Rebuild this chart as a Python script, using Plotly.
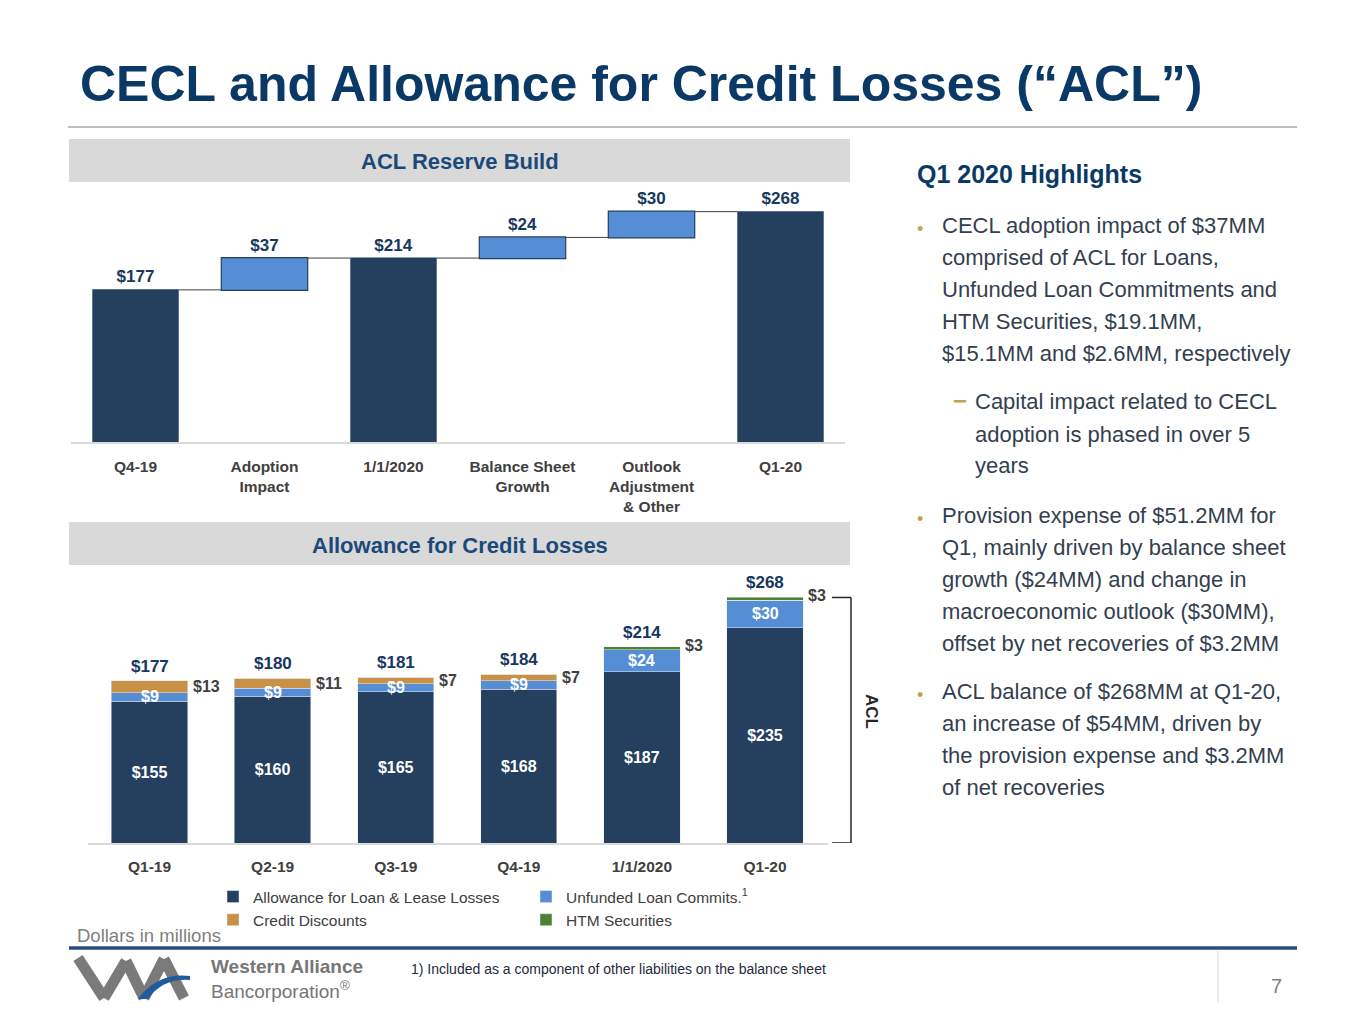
import plotly.graph_objects as go

# page body has an 8px margin: figure is sized to fit inside it
OFF = 8
W, H = 1365 - 2 * OFF, 1024 - 2 * OFF
def X(px): return (px - OFF) / W
def Y(py): return 1 - (py - OFF) / H

FS = "Liberation Sans, Arial, sans-serif"

NAVY = "#253F5F"
BLUE = "#558ED5"
TAN = "#C89146"
GREEN = "#4F8132"
LBL = "#17375E"
GRAY_TXT = "#404040"

# ---- Data: ACL Reserve Build (waterfall) ----
build_labels = ["Q4-19", "Adoption<br>Impact", "1/1/2020", "Balance Sheet<br>Growth",
                "Outlook<br>Adjustment<br>& Other", "Q1-20"]
build_values = [177, 37, 214, 24, 30, 268]
build_measure = ["absolute", "relative", "total", "relative", "relative", "total"]

# ---- Data: Allowance for Credit Losses (stacked) ----
acl_cats = ["Q1-19", "Q2-19", "Q3-19", "Q4-19", "1/1/2020", "Q1-20"]
alll = [155, 160, 165, 168, 187, 235]
unfunded = [9, 9, 9, 9, 24, 30]
credit_disc = [13, 11, 7, 7, 0, 0]
htm = [0, 0, 0, 0, 3, 3]
acl_total = [177, 180, 181, 184, 214, 268]

fig = go.Figure()

fig.add_trace(go.Waterfall(
    x=build_labels, y=build_values, measure=build_measure,
    text=[f"${v}" for v in build_values], textposition="outside",
    textfont=dict(family=FS, size=17, color=LBL, weight="bold"),
    increasing=dict(marker=dict(color=BLUE, line=dict(color=NAVY, width=1.2))),
    totals=dict(marker=dict(color=NAVY, line=dict(color=NAVY, width=0))),
    decreasing=dict(marker=dict(color=BLUE)),
    connector=dict(line=dict(color="#404040", width=1)),
    cliponaxis=False, showlegend=False, xaxis="x", yaxis="y", hoverinfo="skip",
))

fig.add_trace(go.Bar(
    x=acl_cats, y=alll, name="Allowance for Loan & Lease Losses",
    marker=dict(color=NAVY), text=[f"${v}" for v in alll], textposition="inside",
    insidetextanchor="middle", textfont=dict(family=FS, size=16, color="white", weight="bold"),
    xaxis="x2", yaxis="y2", legend="legend", hoverinfo="skip",
))
fig.add_trace(go.Bar(
    x=acl_cats, y=unfunded, name="Unfunded Loan Commits.<sup>1</sup>",
    marker=dict(color=BLUE), textposition="none",
    xaxis="x2", yaxis="y2", legend="legend2", hoverinfo="skip",
))
fig.add_trace(go.Bar(
    x=acl_cats, y=credit_disc, name="Credit Discounts",
    marker=dict(color=TAN), textposition="none",
    xaxis="x2", yaxis="y2", legend="legend", hoverinfo="skip",
))
fig.add_trace(go.Bar(
    x=acl_cats, y=htm, name="HTM Securities",
    marker=dict(color=GREEN), textposition="none",
    xaxis="x2", yaxis="y2", legend="legend2", hoverinfo="skip",
))

ann = []
# data labels on bottom chart
for i, c in enumerate(acl_cats):
    ann.append(dict(xref="x2", yref="y2", x=c, y=alll[i] + unfunded[i] / 2, text=f"${unfunded[i]}",
                    showarrow=False, font=dict(family=FS, size=16, color="white", weight="bold"),
                    yanchor="middle"))
    ann.append(dict(xref="x2", yref="y2", x=c, y=acl_total[i], text=f"${acl_total[i]}",
                    showarrow=False, font=dict(family=FS, size=17, color=LBL, weight="bold"),
                    yanchor="bottom", yshift=3))
    if credit_disc[i]:
        side_v, side_y = credit_disc[i], alll[i] + unfunded[i] + credit_disc[i] / 2
    else:
        side_v, side_y = htm[i], alll[i] + unfunded[i] + htm[i] / 2
    ann.append(dict(xref="x2", yref="y2", x=c, y=side_y, text=f"${side_v}", xanchor="left", xshift=41,
                    yshift=3 if not credit_disc[i] else 0, showarrow=False,
                    font=dict(family=FS, size=16, color=GRAY_TXT, weight="bold"), yanchor="middle"))

def txt(x, y, s, size, color, xanchor="left", weight="normal", **kw):
    ann.append(dict(xref="paper", yref="paper", x=X(x), y=Y(y), text=s, showarrow=False,
                    xanchor=xanchor, yanchor="middle",
                    font=dict(family=FS, size=size, color=color, weight=weight), **kw))

txt(78, 84, "CECL and Allowance for Credit Losses (“ACL”)", 50, "#0B3966", weight="bold")
txt(460, 161, "ACL Reserve Build", 22, "#1B4A7A", xanchor="center", weight="bold")
txt(460, 545, "Allowance for Credit Losses", 22, "#1B4A7A", xanchor="center", weight="bold")
txt(872, 712, "ACL", 17, "#262626", xanchor="center", weight="bold", textangle=90)
txt(75, 935, "Dollars in millions", 18.5, "#7F7F7F")
txt(409, 969, "1) Included as a component of other liabilities on the balance sheet", 14, "#1F2A3C")
txt(1276, 986, "7", 20, "#7F7F7F", xanchor="center")
txt(209, 966, "Western Alliance", 19, "#767676", weight="bold")
txt(209, 990, "Bancorporation<sup>®</sup>", 19, "#767676")

# right-hand highlights
txt(915, 174, "Q1 2020 Highlights", 25, "#0B3966", weight="bold")
BODY = "#333F4F"
GOLD = "#C9A050"
bullets = [
    (940, 225, ["CECL adoption impact of $37MM", "comprised of ACL for Loans,",
                "Unfunded Loan Commitments and", "HTM Securities, $19.1MM,",
                "$15.1MM and $2.6MM, respectively"], "•", 915),
    (973, 402, ["Capital impact related to CECL", "adoption is phased in over 5", "years"], "−", 951),
    (940, 515, ["Provision expense of $51.2MM for", "Q1, mainly driven by balance sheet",
                "growth ($24MM) and change in", "macroeconomic outlook ($30MM),",
                "offset by net recoveries of $3.2MM"], "•", 915),
    (940, 691, ["ACL balance of $268MM at Q1-20,", "an increase of $54MM, driven by",
                "the provision expense and $3.2MM", "of net recoveries"], "•", 915),
]
for bx, by, lines, mark, mx in bullets:
    if mark == "•":
        txt(mx, by + 4, mark, 18, GOLD)
    else:
        txt(mx, by - 1, mark, 24, GOLD, weight="bold")
    for k, line in enumerate(lines):
        txt(bx, by + 32 * k, line, 22, BODY)

shapes = [
    dict(type="line", xref="paper", yref="paper", x0=X(68), x1=X(1297), y0=Y(127), y1=Y(127),
         line=dict(color="#BFBFBF", width=2)),
    dict(type="rect", xref="paper", yref="paper", x0=X(69), x1=X(850), y0=Y(139), y1=Y(182),
         fillcolor="#D9D9D9", line=dict(width=0), layer="below"),
    dict(type="rect", xref="paper", yref="paper", x0=X(69), x1=X(850), y0=Y(522), y1=Y(565),
         fillcolor="#D9D9D9", line=dict(width=0), layer="below"),
    dict(type="line", xref="paper", yref="paper", x0=X(69), x1=X(1297), y0=Y(948), y1=Y(948),
         line=dict(color="#2B4C7E", width=3.5)),
    dict(type="line", xref="paper", yref="paper", x0=X(1218), x1=X(1218), y0=Y(951), y1=Y(1002),
         line=dict(color="#D9D9D9", width=1)),
    # ACL bracket
    dict(type="line", xref="paper", yref="y2", x0=X(832), x1=X(851), y0=acl_total[-1], y1=acl_total[-1],
         line=dict(color="#262626", width=1.5)),
    dict(type="line", xref="paper", yref="y2", x0=X(851), x1=X(851), y0=0, y1=acl_total[-1],
         line=dict(color="#262626", width=1.5)),
    dict(type="line", xref="paper", yref="y2", x0=X(832), x1=X(851), y0=0, y1=0,
         line=dict(color="#262626", width=1.5)),
]
# logo mark (decorative)
for (x0, y0, x1, y1) in [(78, 958, 104, 998), (104, 998, 126, 961), (126, 961, 144, 998),
                         (144, 998, 164, 959), (164, 959, 184, 998)]:
    shapes.append(dict(type="line", xref="paper", yref="paper", x0=X(x0), y0=Y(y0), x1=X(x1), y1=Y(y1),
                       line=dict(color="#7A7A7A", width=11)))
shapes.append(dict(type="path", xref="paper", yref="paper",
                   path=f"M{X(138)},{Y(999)} Q{X(158)},{Y(972)} {X(190)},{Y(976)} L{X(190)},{Y(980)} Q{X(163)},{Y(978)} {X(148)},{Y(999)} Z",
                   fillcolor="#1F5C99", line=dict(width=0)))

fig.update_layout(
    width=W, height=H, margin=dict(l=0, r=0, t=0, b=0),
    paper_bgcolor="white", plot_bgcolor="white",
    barmode="stack", bargap=0.38, waterfallgap=0.33,
    xaxis=dict(domain=[X(71), X(845)], showline=True, linecolor="#D9D9D9", linewidth=2,
               showgrid=False, ticks="", ticklabelstandoff=9,
               tickfont=dict(family=FS, size=15.5, color=GRAY_TXT, weight="bold"),
               anchor="y", fixedrange=True),
    yaxis=dict(domain=[Y(442), Y(185)], range=[0, 299], visible=False, fixedrange=True),
    xaxis2=dict(domain=[X(88), X(828)], showline=True, linecolor="#D9D9D9", linewidth=2,
                showgrid=False, ticks="", ticklabelstandoff=8,
                tickfont=dict(family=FS, size=15.5, color=GRAY_TXT, weight="bold"),
                anchor="y2", fixedrange=True),
    yaxis2=dict(domain=[Y(843), Y(570)], range=[0, 298], visible=False, fixedrange=True),
    legend=dict(x=X(213), y=Y(880), xanchor="left", yanchor="top", orientation="v",
                font=dict(family=FS, size=15.5, color=GRAY_TXT), bgcolor="rgba(0,0,0,0)",
                itemwidth=30, traceorder="normal", tracegroupgap=0),
    legend2=dict(x=X(526), y=Y(880), xanchor="left", yanchor="top", orientation="v",
                 font=dict(family=FS, size=15.5, color=GRAY_TXT), bgcolor="rgba(0,0,0,0)",
                 itemwidth=30, traceorder="normal", tracegroupgap=0),
    annotations=ann, shapes=shapes,
)

fig.write_html("out.html")
